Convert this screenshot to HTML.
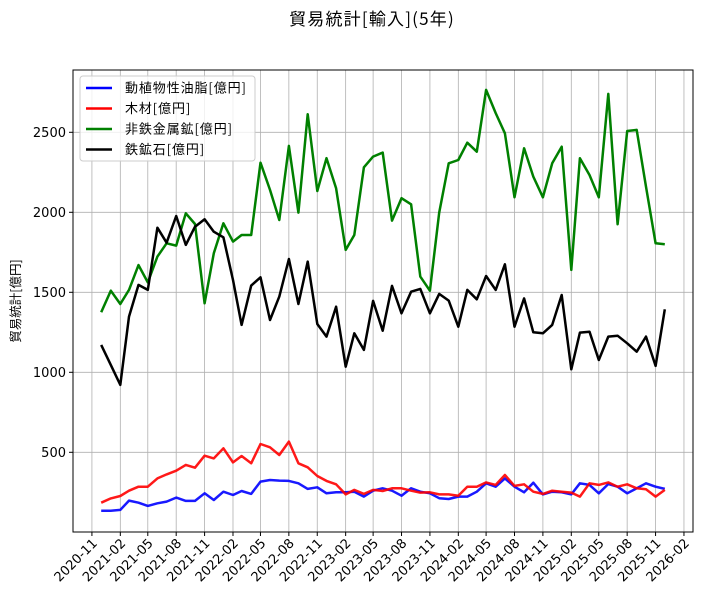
<!DOCTYPE html>
<html><head><meta charset="utf-8">
<style>
body{margin:0;background:#fff;}
svg{display:block;font-family:"DejaVu Sans","Liberation Sans",sans-serif;}
</style></head>
<body>
<svg id="chart" width="719" height="602" viewBox="0 0 719 602" xmlns="http://www.w3.org/2000/svg">
<text x="372" y="25" font-size="17" letter-spacing="1.2" text-anchor="middle" font-family="'Noto Sans CJK JP',sans-serif">貿易統計[輸入](5年)</text>
<text transform="translate(20,301) rotate(-90)" font-size="12.5" text-anchor="middle" font-family="'Noto Sans CJK JP',sans-serif">貿易統計[億円]</text>
<g id="grid"></g>
<g id="series"></g>
<rect x="73" y="70" width="620" height="462" fill="none" stroke="#000" stroke-width="1"/>
<g id="axes"></g>
<g id="legend"></g>
</svg>
<script>
const startYear = 2020, startMonth = 11; // Dec 2020 (0-based month)
const oils = [135,135,140,198,185,165,181,192,217,196,196,244,202,254,233,258,240,317,327,323,321,306,271,281,244,250,250,254,223,260,275,260,229,275,254,244,213,208,223,223,254,306,285,337,285,250,310,237,254,250,237,306,296,244,302,285,244,275,306,285,271];
const wood = [185,212,227,260,285,285,337,362,385,421,404,479,462,525,437,477,431,552,531,483,567,431,406,352,321,300,237,265,240,265,258,275,275,260,248,250,237,237,229,285,285,312,296,358,290,300,254,240,260,254,248,223,306,296,312,285,300,275,269,223,265];
const nonferrous = [1375,1510,1427,1515,1670,1562,1723,1806,1792,1994,1927,1431,1744,1931,1817,1858,1858,2310,2140,1952,2415,1998,2613,2133,2338,2150,1765,1858,2281,2348,2373,1948,2088,2050,1598,1510,1998,2306,2327,2435,2379,2765,2620,2494,2094,2400,2223,2094,2306,2410,1640,2338,2233,2094,2740,1925,2508,2515,2160,1806,1800];
const ironore = [1171,1046,921,1348,1546,1515,1904,1810,1977,1796,1910,1956,1879,1844,1577,1296,1542,1594,1327,1473,1708,1427,1692,1302,1223,1410,1035,1244,1140,1446,1260,1540,1369,1504,1521,1369,1490,1448,1285,1515,1456,1602,1515,1675,1285,1462,1250,1244,1296,1483,1019,1248,1254,1077,1223,1229,1181,1129,1223,1040,1394];
const yTicks = [500,1000,1500,2000,2500];
const xTickLabels = ["2020-11","2021-02","2021-05","2021-08","2021-11","2022-02","2022-05","2022-08","2022-11","2023-02","2023-05","2023-08","2023-11","2024-02","2024-05","2024-08","2024-11","2025-02","2025-05","2025-08","2025-11","2026-02"];
const seriesNames = ["動植物性油脂[億円]","木材[億円]","非鉄金属鉱[億円]","鉄鉱石[億円]"];

const NS="http://www.w3.org/2000/svg";
const L=73,R=693,T=70,B=532;
const DAY=86400000;
const n=oils.length;
const d0=Date.UTC(startYear,startMonth,1)/DAY;
const d1=Date.UTC(startYear,startMonth+n-1,1)/DAY;
const span=d1-d0, pad=span*0.05;
function xDays(d){return L+(d-(d0-pad))*(R-L)/(span+2*pad);}
function xIdx(i){return xDays(Date.UTC(startYear,startMonth+i,1)/DAY);}
function xLabel(s){const [y,m]=s.split('-').map(Number);return xDays(Date.UTC(y,m-1,1)/DAY);}
function y(v){return 532.3-v*0.16;}
function mk(tag,attrs,parent){const e=document.createElementNS(NS,tag);for(const k in attrs)e.setAttribute(k,attrs[k]);parent.appendChild(e);return e;}

const grid=document.getElementById('grid'),axes=document.getElementById('axes'),ser=document.getElementById('series'),leg=document.getElementById('legend');
yTicks.forEach(v=>{
  const g=mk('line',{x1:L,x2:R,y1:y(v),y2:y(v),stroke:'#b0b0b0','stroke-width':0.8},grid);
  
  
  const t=mk('line',{x1:L-4,x2:L,y1:y(v),y2:y(v),stroke:'#000'},axes);
  
  
  const tx=mk('text',{x:L-7,y:y(v)+4.5,'font-size':13,'text-anchor':'end'},axes);
  tx.textContent=v;
  
  
});
xTickLabels.forEach(s=>{
  const x=xLabel(s);
  const g=mk('line',{x1:x,x2:x,y1:T,y2:B,stroke:'#b0b0b0','stroke-width':0.8},grid);
  
  
  const t=mk('line',{x1:x,x2:x,y1:B,y2:B+4,stroke:'#000'},axes);
  
  
  const tx=mk('text',{transform:`translate(${x+6},${B+12}) rotate(-45)`,'font-size':13,'text-anchor':'end'},axes);
  tx.textContent=s;
  
  
});
const allSeries=[oils,wood,nonferrous,ironore];
const colors=['#0000ff','#ff0000','#008000','#000000'];
const names=['oils-line','wood-line','nonferrous-ore-line','iron-ore-line'];
allSeries.forEach((arr,k)=>{
  const pts=arr.map((v,i)=>xIdx(i).toFixed(1)+','+y(v).toFixed(1)).join(' ');
  const p=mk('polyline',{points:pts,fill:'none',stroke:colors[k],'stroke-width':2.5,'stroke-linejoin':'round',opacity:k<2?0.9:1},ser);
  
  
});
mk('rect',{x:80,y:76,width:175,height:85,rx:3,fill:'#fff','fill-opacity':0.8,stroke:'#ccc'},leg);
seriesNames.forEach((s,k)=>{
  const yy=88+k*20.5;
  const l=mk('line',{x1:86,x2:112,y1:yy,y2:yy,stroke:colors[k],'stroke-width':2.5},leg);
  
  
  const t=mk('text',{x:125,y:yy+4.5,'font-size':13,'letter-spacing':0.9,'font-family':"'Noto Sans CJK JP',sans-serif"},leg);
  t.textContent=s;
  
  
});
</script>
</body></html>
